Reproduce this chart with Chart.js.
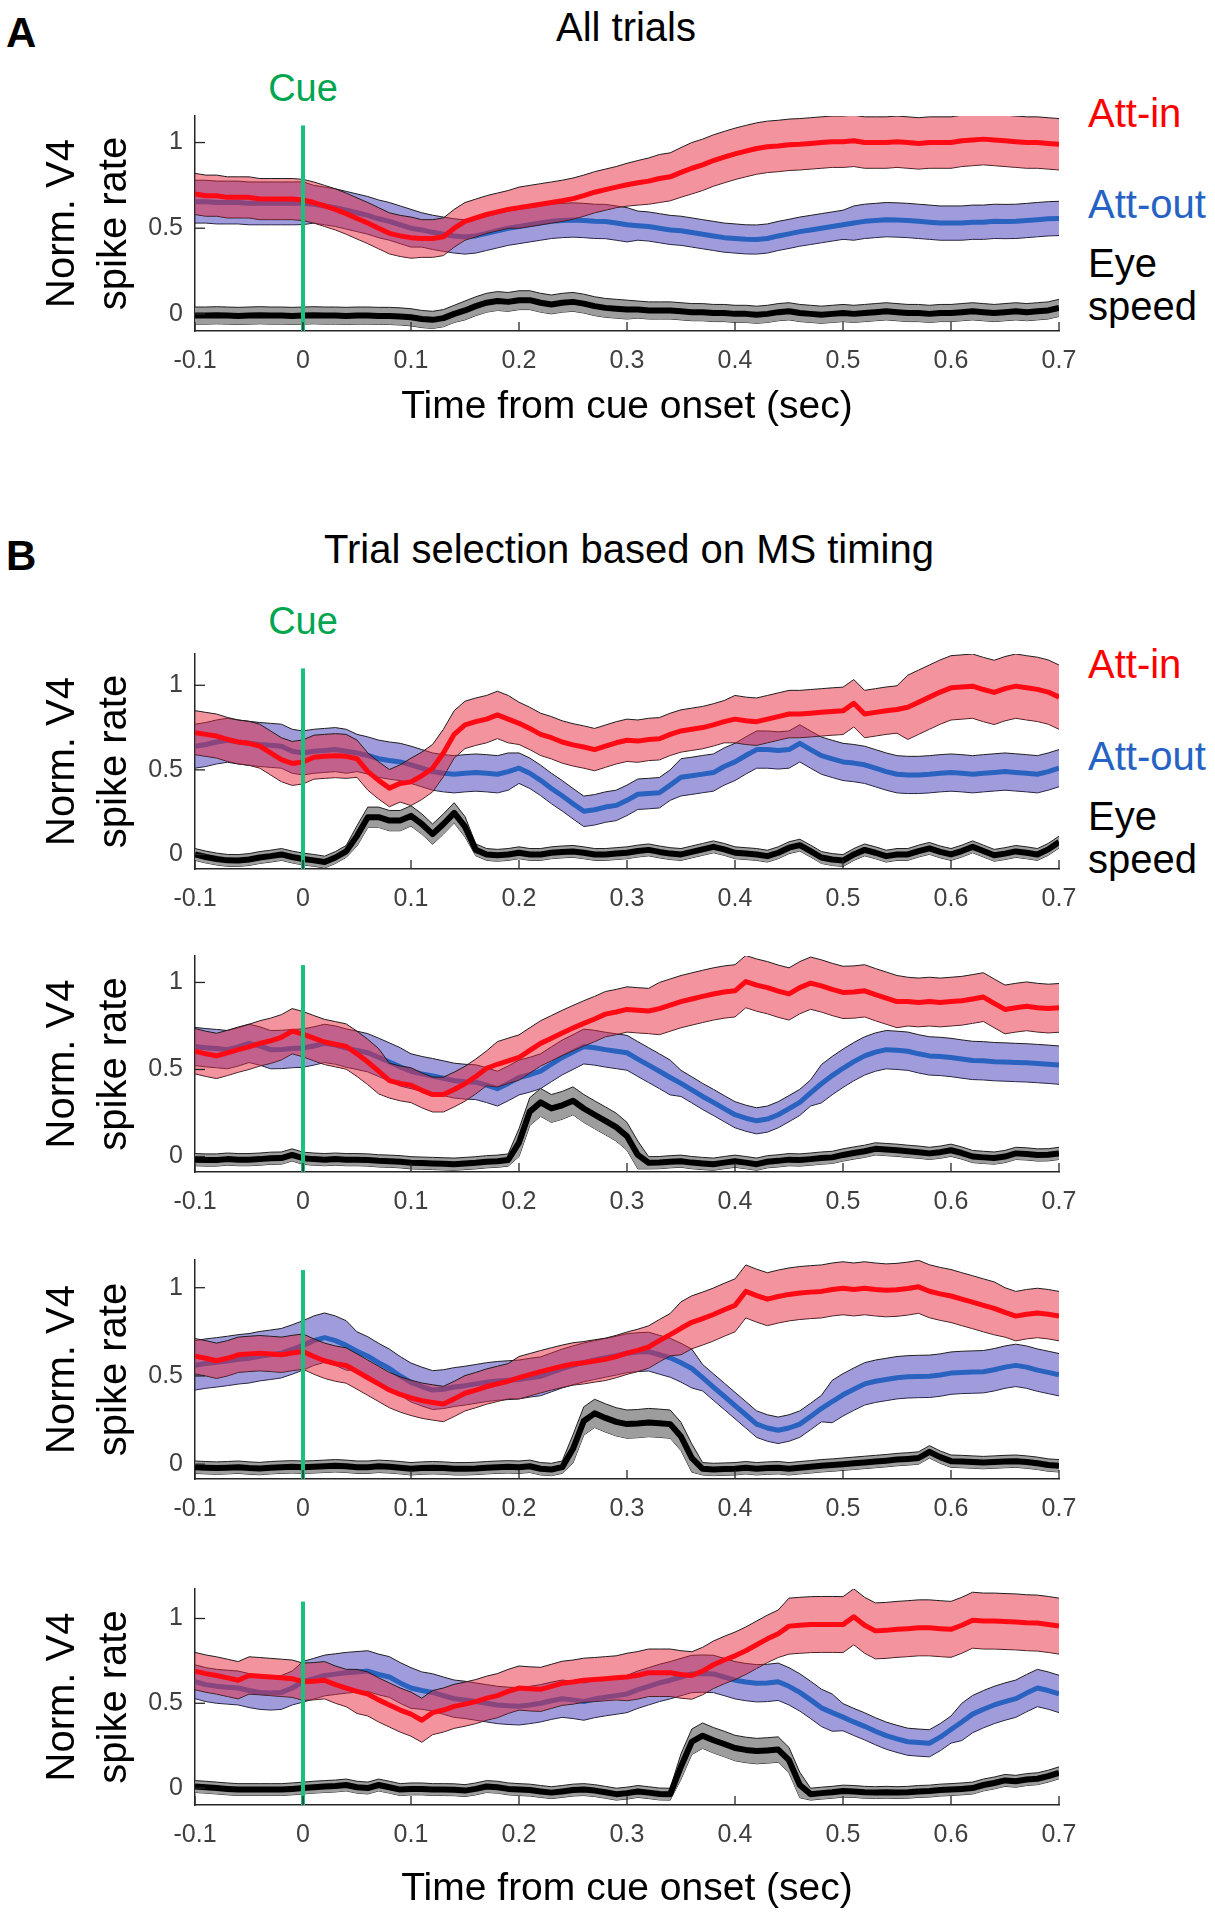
<!DOCTYPE html>
<html><head><meta charset="utf-8">
<script src="https://cdn.jsdelivr.net/npm/chart.js@4.4.1/dist/chart.umd.min.js"></script>
<style>
body{margin:0;background:#fff;}
#page{position:relative;width:1215px;height:1920px;overflow:hidden;font-family:'Liberation Sans',Arial,sans-serif;background:#fff;}
.t{position:absolute;white-space:nowrap;line-height:40px;font-size:40px;color:#000;}
.c{transform:translateX(-50%);}
canvas{position:absolute;left:0;}
</style></head><body><div id="page">
<div class="t" style="left:6px;top:12px;font-size:42px;line-height:42px;font-weight:bold;">A</div>
<div class="t c" style="left:626px;top:7px;">All trials</div>
<div class="t c" style="left:303px;top:68px;font-size:38px;color:#00a550;">Cue</div>
<div class="t" style="left:1088px;top:93px;color:#ff0000;">Att-in</div>
<div class="t" style="left:1088px;top:184px;color:#2462c4;">Att-out</div>
<div class="t" style="left:1088px;top:242px;line-height:43px;">Eye<br>speed</div>

<div class="t" style="left:6px;top:535px;font-size:42px;line-height:42px;font-weight:bold;">B</div>
<div class="t c" style="left:629px;top:529px;">Trial selection based on MS timing</div>
<div class="t c" style="left:303px;top:601px;font-size:38px;color:#00a550;">Cue</div>
<div class="t" style="left:1088px;top:644px;color:#ff0000;">Att-in</div>
<div class="t" style="left:1088px;top:736px;color:#2462c4;">Att-out</div>
<div class="t" style="left:1088px;top:795px;line-height:43px;">Eye<br>speed</div>
</div>
<script>
// ---------- time grid (sec) ----------
const T = [-0.1,-0.09,-0.08,-0.07,-0.06,-0.05,-0.04,-0.03,-0.02,-0.01,
0,0.01,0.02,0.03,0.04,0.05,0.06,0.07,0.08,0.09,
0.1,0.11,0.12,0.13,0.14,0.15,0.16,0.17,0.18,0.19,
0.2,0.21,0.22,0.23,0.24,0.25,0.26,0.27,0.28,0.29,
0.3,0.31,0.32,0.33,0.34,0.35,0.36,0.37,0.38,0.39,
0.4,0.41,0.42,0.43,0.44,0.45,0.46,0.47,0.48,0.49,
0.5,0.51,0.52,0.53,0.54,0.55,0.56,0.57,0.58,0.59,
0.6,0.61,0.62,0.63,0.64,0.65,0.66,0.67,0.68,0.69,
0.7];

const X_TICKS = [-0.1,0,0.1,0.2,0.3,0.4,0.5,0.6,0.7];
const X_TICK_LABELS = ['-0.1','0','0.1','0.2','0.3','0.4','0.5','0.6','0.7'];
const Y_TICKS = [0,0.5,1];
const Y_TICK_LABELS = ['0','0.5','1'];
const CUE_TIME = 0;
const CUE_TOP = 1.1;

// ---------- Panel A: All trials ----------
const A_IN = [0.70,0.69,0.69,0.68,0.68,0.68,0.67,0.67,0.67,0.67,
0.665,0.65,0.63,0.61,0.585,0.557,0.53,0.50,0.47,0.455,
0.445,0.44,0.44,0.45,0.50,0.54,0.56,0.58,0.595,0.61,
0.62,0.63,0.64,0.65,0.66,0.673,0.69,0.71,0.725,0.74,
0.754,0.765,0.775,0.79,0.80,0.826,0.85,0.87,0.895,0.915,
0.934,0.95,0.965,0.975,0.98,0.987,0.99,0.995,1.0,1.005,
1.005,1.01,1.0,1.0,1.0,1.005,1.0,0.995,1.0,1.0,
1.0,1.01,1.015,1.02,1.015,1.01,1.005,1.0,1.0,0.995,
0.99];
const A_IN_SEM = [0.12,0.12,0.12,0.12,0.12,0.12,0.12,0.12,0.12,0.12,
0.12,0.12,0.12,0.12,0.12,0.12,0.12,0.12,0.12,0.12,
0.12,0.11,0.11,0.11,0.11,0.11,0.11,0.11,0.11,0.11,
0.12,0.12,0.12,0.12,0.12,0.12,0.12,0.12,0.12,0.12,
0.125,0.13,0.135,0.14,0.14,0.145,0.15,0.15,0.15,0.15,
0.15,0.15,0.15,0.15,0.15,0.15,0.15,0.15,0.15,0.15,
0.15,0.15,0.15,0.15,0.15,0.15,0.15,0.15,0.15,0.15,
0.15,0.15,0.15,0.15,0.15,0.15,0.15,0.15,0.15,0.15,
0.15];
const A_OUT = [0.655,0.655,0.65,0.65,0.65,0.645,0.645,0.645,0.645,0.645,
0.646,0.64,0.63,0.62,0.605,0.59,0.575,0.555,0.54,0.52,
0.50,0.49,0.476,0.465,0.455,0.449,0.455,0.47,0.485,0.50,
0.51,0.52,0.53,0.54,0.545,0.548,0.545,0.54,0.539,0.53,
0.52,0.515,0.51,0.50,0.49,0.485,0.475,0.465,0.455,0.445,
0.44,0.435,0.434,0.44,0.455,0.467,0.48,0.49,0.50,0.51,
0.52,0.53,0.54,0.545,0.55,0.548,0.545,0.54,0.535,0.53,
0.53,0.53,0.535,0.535,0.54,0.539,0.54,0.545,0.55,0.555,
0.557];
const A_OUT_SEM = [0.125,0.125,0.125,0.125,0.125,0.125,0.125,0.125,0.125,0.125,
0.125,0.11,0.11,0.11,0.11,0.11,0.11,0.11,0.11,0.11,
0.11,0.1,0.1,0.1,0.1,0.1,0.1,0.1,0.1,0.1,
0.1,0.1,0.1,0.1,0.1,0.1,0.1,0.1,0.1,0.1,
0.1,0.085,0.085,0.085,0.085,0.085,0.085,0.085,0.085,0.085,
0.085,0.085,0.085,0.085,0.085,0.085,0.085,0.085,0.085,0.085,
0.085,0.1,0.1,0.1,0.1,0.1,0.1,0.1,0.1,0.1,
0.1,0.1,0.1,0.1,0.1,0.1,0.1,0.1,0.1,0.1,
0.1];
const A_EYE = [-0.01,-0.01,-0.008,-0.01,-0.012,-0.01,-0.008,-0.01,-0.01,-0.012,
-0.01,-0.008,-0.01,-0.01,-0.012,-0.01,-0.01,-0.012,-0.012,-0.015,
-0.02,-0.03,-0.035,-0.025,0.0,0.02,0.045,0.065,0.075,0.07,
0.08,0.08,0.065,0.055,0.065,0.07,0.06,0.045,0.035,0.03,
0.025,0.025,0.02,0.02,0.02,0.015,0.01,0.01,0.005,0.005,
0.0,0.0,-0.005,0.0,0.01,0.015,0.005,0.0,-0.005,0.0,
0.005,0.0,0.005,0.01,0.015,0.01,0.005,0.005,0.0,0.005,
0.005,0.01,0.015,0.01,0.005,0.01,0.015,0.01,0.015,0.02,
0.035];
const A_EYE_SEM = [0.05,0.05,0.05,0.05,0.05,0.05,0.05,0.05,0.05,0.05,
0.05,0.05,0.05,0.05,0.05,0.05,0.05,0.05,0.05,0.05,
0.05,0.05,0.05,0.05,0.05,0.055,0.055,0.055,0.055,0.055,
0.055,0.055,0.055,0.055,0.055,0.055,0.055,0.055,0.055,0.055,
0.055,0.05,0.05,0.05,0.05,0.05,0.05,0.05,0.05,0.05,
0.05,0.05,0.05,0.05,0.05,0.05,0.05,0.05,0.05,0.05,
0.05,0.05,0.05,0.05,0.05,0.05,0.05,0.05,0.05,0.05,
0.05,0.05,0.05,0.05,0.05,0.05,0.05,0.05,0.05,0.05,
0.05];

// ---------- Panel B1 ----------
const B1_IN = [0.72,0.71,0.70,0.68,0.665,0.657,0.64,0.60,0.56,0.538,
0.547,0.575,0.58,0.584,0.58,0.566,0.49,0.438,0.392,0.42,
0.429,0.465,0.51,0.60,0.71,0.766,0.785,0.80,0.825,0.80,
0.775,0.745,0.71,0.69,0.665,0.648,0.635,0.62,0.64,0.66,
0.675,0.67,0.68,0.684,0.71,0.73,0.74,0.75,0.766,0.785,
0.80,0.79,0.785,0.80,0.815,0.83,0.83,0.835,0.84,0.845,
0.849,0.894,0.83,0.84,0.85,0.857,0.87,0.90,0.93,0.96,
0.985,0.99,0.995,0.975,0.958,0.98,0.995,0.985,0.976,0.96,
0.93];
const B1_IN_SEM = [0.13,0.13,0.13,0.13,0.13,0.13,0.13,0.13,0.13,0.13,
0.13,0.13,0.13,0.13,0.13,0.11,0.11,0.11,0.11,0.11,
0.14,0.14,0.14,0.14,0.14,0.14,0.14,0.14,0.14,0.14,
0.125,0.125,0.125,0.125,0.125,0.125,0.125,0.125,0.125,0.125,
0.125,0.125,0.125,0.125,0.125,0.125,0.125,0.125,0.125,0.125,
0.14,0.14,0.14,0.14,0.14,0.14,0.14,0.14,0.14,0.14,
0.14,0.14,0.14,0.14,0.14,0.14,0.19,0.19,0.19,0.19,
0.19,0.19,0.19,0.19,0.19,0.19,0.19,0.19,0.19,0.19,
0.19];
const B1_OUT = [0.64,0.65,0.665,0.675,0.665,0.657,0.65,0.645,0.64,0.61,
0.60,0.61,0.615,0.62,0.61,0.60,0.585,0.566,0.555,0.547,
0.53,0.51,0.49,0.48,0.474,0.48,0.484,0.48,0.474,0.49,
0.51,0.48,0.438,0.39,0.347,0.30,0.255,0.264,0.28,0.29,
0.32,0.356,0.36,0.365,0.41,0.456,0.465,0.475,0.484,0.52,
0.547,0.585,0.62,0.62,0.615,0.62,0.657,0.62,0.584,0.565,
0.547,0.54,0.53,0.51,0.49,0.474,0.47,0.47,0.474,0.48,
0.484,0.48,0.474,0.48,0.485,0.49,0.485,0.48,0.474,0.49,
0.51];
const B1_OUT_SEM = [0.13,0.13,0.13,0.13,0.13,0.13,0.13,0.13,0.13,0.13,
0.13,0.13,0.13,0.13,0.13,0.11,0.11,0.11,0.11,0.11,
0.11,0.11,0.11,0.11,0.11,0.11,0.11,0.11,0.11,0.11,
0.09,0.09,0.09,0.09,0.09,0.09,0.09,0.09,0.09,0.09,
0.09,0.09,0.09,0.09,0.09,0.11,0.11,0.11,0.11,0.11,
0.11,0.11,0.11,0.11,0.11,0.11,0.11,0.11,0.11,0.11,
0.11,0.11,0.11,0.11,0.11,0.11,0.11,0.11,0.11,0.11,
0.11,0.11,0.11,0.11,0.11,0.11,0.11,0.11,0.11,0.11,
0.11];
const B1_EYE = [0.0,-0.015,-0.027,-0.035,-0.036,-0.03,-0.018,-0.01,0.0,-0.015,
-0.027,-0.035,-0.045,-0.018,0.018,0.11,0.22,0.22,0.2,0.2,
0.228,0.18,0.12,0.18,0.246,0.164,0.027,0.0,-0.005,0.0,
0.01,0.0,0.0,0.01,0.015,0.018,0.01,0.0,0.0,0.005,
0.01,0.02,0.027,0.015,0.005,0.0,0.015,0.03,0.045,0.03,
0.01,0.005,0.0,-0.01,0.01,0.04,0.055,0.02,-0.018,-0.03,
-0.036,0.0,0.027,0.01,-0.01,0.0,0.0,0.02,0.036,0.015,
0.0,0.02,0.045,0.02,-0.005,0.005,0.018,0.01,0.0,0.03,
0.073];
const B1_EYE_SEM = [0.035,0.035,0.035,0.035,0.035,0.035,0.035,0.035,0.035,0.035,
0.035,0.035,0.035,0.035,0.035,0.06,0.06,0.06,0.06,0.06,
0.06,0.06,0.06,0.06,0.06,0.06,0.035,0.035,0.035,0.035,
0.035,0.035,0.035,0.035,0.035,0.035,0.035,0.035,0.035,0.035,
0.035,0.035,0.035,0.035,0.035,0.035,0.035,0.035,0.035,0.035,
0.035,0.035,0.035,0.035,0.035,0.035,0.035,0.035,0.035,0.035,
0.035,0.035,0.035,0.035,0.035,0.035,0.035,0.035,0.035,0.035,
0.035,0.035,0.035,0.035,0.035,0.035,0.035,0.035,0.035,0.035,
0.035];

// ---------- Panel B2 ----------
const B2_IN = [0.605,0.59,0.578,0.595,0.614,0.63,0.65,0.665,0.685,0.72,
0.703,0.68,0.658,0.645,0.632,0.59,0.543,0.49,0.436,0.42,
0.41,0.38,0.356,0.356,0.385,0.418,0.46,0.507,0.53,0.55,
0.569,0.61,0.65,0.68,0.71,0.738,0.765,0.79,0.818,0.83,
0.845,0.84,0.836,0.85,0.87,0.89,0.905,0.92,0.934,0.945,
0.952,1.005,0.985,0.97,0.95,0.934,0.97,0.996,0.98,0.96,
0.943,0.945,0.952,0.93,0.91,0.89,0.89,0.885,0.89,0.885,
0.89,0.895,0.905,0.916,0.88,0.845,0.855,0.863,0.855,0.85,
0.854];
const B2_IN_SEM = [0.13,0.13,0.13,0.13,0.13,0.13,0.13,0.13,0.13,0.13,
0.13,0.13,0.13,0.13,0.13,0.13,0.13,0.13,0.1,0.1,
0.1,0.1,0.1,0.1,0.1,0.1,0.1,0.1,0.13,0.13,
0.13,0.13,0.13,0.13,0.13,0.13,0.13,0.13,0.13,0.13,
0.13,0.13,0.13,0.15,0.15,0.15,0.15,0.15,0.15,0.15,
0.15,0.15,0.15,0.15,0.15,0.15,0.15,0.15,0.15,0.15,
0.15,0.15,0.15,0.15,0.15,0.15,0.14,0.14,0.14,0.14,
0.14,0.14,0.14,0.14,0.14,0.14,0.14,0.14,0.14,0.14,
0.14];
const B2_OUT = [0.632,0.625,0.62,0.614,0.63,0.65,0.635,0.614,0.615,0.62,
0.623,0.635,0.65,0.64,0.623,0.61,0.596,0.57,0.543,0.515,
0.49,0.475,0.463,0.45,0.436,0.43,0.427,0.41,0.39,0.42,
0.454,0.47,0.49,0.53,0.569,0.60,0.632,0.625,0.614,0.605,
0.596,0.56,0.525,0.49,0.454,0.42,0.383,0.345,0.311,0.275,
0.24,0.22,0.205,0.215,0.24,0.275,0.311,0.365,0.418,0.465,
0.507,0.545,0.578,0.60,0.614,0.61,0.605,0.59,0.578,0.575,
0.569,0.56,0.552,0.55,0.545,0.543,0.54,0.538,0.534,0.53,
0.525];
const B2_OUT_SEM = [0.11,0.11,0.11,0.11,0.11,0.11,0.11,0.11,0.11,0.11,
0.11,0.11,0.11,0.11,0.11,0.11,0.11,0.11,0.11,0.11,
0.1,0.1,0.1,0.1,0.1,0.1,0.1,0.1,0.1,0.1,
0.1,0.1,0.1,0.1,0.1,0.1,0.1,0.1,0.1,0.1,
0.1,0.1,0.1,0.1,0.1,0.075,0.075,0.075,0.075,0.075,
0.075,0.075,0.075,0.075,0.075,0.075,0.075,0.075,0.11,0.11,
0.11,0.11,0.11,0.11,0.11,0.11,0.11,0.11,0.11,0.11,
0.11,0.11,0.11,0.11,0.11,0.11,0.11,0.11,0.11,0.11,
0.11];
const B2_EYE = [-0.018,-0.02,-0.02,-0.015,-0.018,-0.018,-0.015,-0.01,-0.009,0.009,
-0.01,-0.015,-0.018,-0.015,-0.018,-0.018,-0.02,-0.025,-0.027,-0.03,
-0.036,-0.038,-0.04,-0.042,-0.044,-0.04,-0.036,-0.03,-0.027,-0.02,
0.08,0.258,0.311,0.276,0.294,0.32,0.276,0.24,0.205,0.169,
0.116,0.009,-0.036,-0.035,-0.03,-0.027,-0.035,-0.04,-0.044,-0.035,
-0.027,-0.035,-0.044,-0.03,-0.025,-0.018,-0.02,-0.015,-0.009,-0.005,
0.009,0.02,0.03,0.044,0.04,0.036,0.03,0.025,0.018,0.025,
0.036,0.02,0.0,-0.005,-0.009,0.0,0.018,0.015,0.009,0.01,
0.018];
const B2_EYE_SEM = [0.035,0.035,0.035,0.035,0.035,0.035,0.035,0.035,0.035,0.035,
0.035,0.035,0.035,0.035,0.035,0.035,0.035,0.035,0.035,0.035,
0.035,0.035,0.035,0.035,0.035,0.035,0.035,0.035,0.035,0.035,
0.08,0.08,0.08,0.08,0.08,0.08,0.08,0.08,0.08,0.08,
0.08,0.08,0.035,0.035,0.035,0.035,0.035,0.035,0.035,0.035,
0.035,0.035,0.035,0.035,0.035,0.035,0.035,0.035,0.035,0.035,
0.035,0.035,0.035,0.035,0.035,0.035,0.035,0.035,0.035,0.035,
0.035,0.035,0.035,0.035,0.035,0.035,0.035,0.035,0.035,0.035,
0.035];

// ---------- Panel B3 ----------
const B3_IN = [0.612,0.60,0.586,0.60,0.62,0.625,0.629,0.625,0.62,0.63,
0.638,0.61,0.586,0.57,0.559,0.525,0.49,0.455,0.42,0.395,
0.376,0.36,0.35,0.341,0.37,0.402,0.42,0.44,0.455,0.47,
0.49,0.507,0.524,0.54,0.555,0.568,0.575,0.585,0.594,0.61,
0.629,0.645,0.664,0.70,0.734,0.77,0.804,0.825,0.848,0.875,
0.90,0.979,0.955,0.935,0.95,0.962,0.97,0.975,0.979,0.99,
0.997,0.99,0.997,0.99,0.985,0.988,0.995,1.005,0.98,0.965,
0.953,0.935,0.918,0.90,0.883,0.86,0.839,0.85,0.857,0.85,
0.839];
const B3_IN_SEM = [0.1,0.1,0.1,0.1,0.1,0.1,0.1,0.1,0.1,0.1,
0.1,0.1,0.1,0.1,0.1,0.1,0.1,0.1,0.1,0.1,
0.1,0.1,0.1,0.1,0.1,0.1,0.1,0.1,0.1,0.1,
0.12,0.12,0.12,0.12,0.12,0.12,0.12,0.12,0.12,0.12,
0.12,0.12,0.12,0.12,0.12,0.15,0.15,0.15,0.15,0.15,
0.15,0.15,0.15,0.15,0.15,0.15,0.15,0.15,0.15,0.15,
0.15,0.15,0.15,0.15,0.15,0.15,0.15,0.15,0.15,0.15,
0.15,0.15,0.15,0.15,0.15,0.14,0.14,0.14,0.14,0.14,
0.14];
const B3_OUT = [0.56,0.57,0.577,0.585,0.594,0.60,0.612,0.62,0.629,0.65,
0.673,0.70,0.717,0.70,0.673,0.64,0.612,0.575,0.542,0.50,
0.463,0.44,0.42,0.425,0.437,0.445,0.455,0.465,0.472,0.476,
0.48,0.49,0.498,0.52,0.542,0.56,0.577,0.59,0.603,0.615,
0.629,0.635,0.638,0.62,0.603,0.575,0.542,0.49,0.437,0.385,
0.332,0.28,0.227,0.205,0.192,0.205,0.227,0.27,0.315,0.355,
0.393,0.425,0.455,0.47,0.48,0.49,0.495,0.497,0.498,0.505,
0.516,0.52,0.522,0.524,0.535,0.55,0.56,0.55,0.533,0.52,
0.507];
const B3_OUT_SEM = [0.14,0.14,0.14,0.14,0.14,0.14,0.14,0.14,0.14,0.14,
0.14,0.14,0.14,0.14,0.14,0.11,0.11,0.11,0.11,0.11,
0.11,0.11,0.11,0.11,0.11,0.11,0.11,0.11,0.11,0.11,
0.11,0.11,0.11,0.11,0.11,0.11,0.11,0.11,0.11,0.11,
0.11,0.11,0.11,0.11,0.11,0.11,0.11,0.075,0.075,0.075,
0.075,0.075,0.075,0.075,0.075,0.075,0.075,0.075,0.075,0.12,
0.12,0.12,0.12,0.12,0.12,0.12,0.12,0.12,0.12,0.12,
0.12,0.12,0.12,0.12,0.12,0.12,0.12,0.12,0.12,0.12,
0.12];
const B3_EYE = [-0.017,-0.02,-0.022,-0.02,-0.017,-0.022,-0.025,-0.02,-0.017,-0.015,
-0.017,-0.015,-0.012,-0.009,-0.012,-0.017,-0.017,-0.012,-0.015,-0.02,
-0.026,-0.022,-0.02,-0.022,-0.026,-0.026,-0.024,-0.02,-0.017,-0.015,
-0.017,-0.012,-0.026,-0.03,-0.017,0.087,0.245,0.288,0.262,0.24,
0.227,0.23,0.236,0.232,0.227,0.157,0.035,-0.026,-0.03,-0.028,
-0.026,-0.02,-0.026,-0.022,-0.02,-0.026,-0.02,-0.015,-0.009,-0.005,
0.0,0.005,0.01,0.015,0.02,0.026,0.03,0.035,0.07,0.04,
0.017,0.015,0.012,0.009,0.012,0.015,0.017,0.012,0.005,-0.005,
-0.009];
const B3_EYE_SEM = [0.035,0.035,0.035,0.035,0.035,0.035,0.035,0.035,0.035,0.035,
0.035,0.035,0.035,0.035,0.035,0.035,0.035,0.035,0.035,0.035,
0.035,0.035,0.035,0.035,0.035,0.035,0.035,0.035,0.035,0.035,
0.035,0.035,0.035,0.035,0.035,0.08,0.08,0.08,0.08,0.08,
0.08,0.08,0.08,0.08,0.08,0.08,0.08,0.035,0.035,0.035,
0.035,0.035,0.035,0.035,0.035,0.035,0.035,0.035,0.035,0.035,
0.035,0.035,0.035,0.035,0.035,0.035,0.035,0.035,0.035,0.035,
0.035,0.035,0.035,0.035,0.035,0.035,0.035,0.035,0.035,0.035,
0.035];

// ---------- Panel B4 ----------
const B4_IN = [0.69,0.675,0.664,0.65,0.636,0.664,0.66,0.655,0.65,0.645,
0.627,0.63,0.636,0.61,0.59,0.57,0.555,0.52,0.49,0.46,
0.436,0.40,0.445,0.46,0.482,0.495,0.51,0.53,0.545,0.57,
0.59,0.585,0.582,0.60,0.618,0.625,0.636,0.64,0.645,0.65,
0.655,0.665,0.68,0.68,0.68,0.67,0.664,0.69,0.727,0.755,
0.78,0.81,0.845,0.88,0.91,0.955,0.96,0.964,0.965,0.965,
0.964,1.01,0.96,0.927,0.93,0.936,0.94,0.945,0.945,0.94,
0.936,0.96,0.99,0.985,0.985,0.982,0.98,0.975,0.973,0.965,
0.955];
const B4_IN_SEM = [0.11,0.11,0.11,0.11,0.11,0.11,0.11,0.11,0.11,0.11,
0.11,0.11,0.11,0.11,0.11,0.13,0.13,0.13,0.13,0.13,
0.13,0.13,0.13,0.13,0.13,0.13,0.13,0.13,0.13,0.13,
0.13,0.13,0.13,0.13,0.13,0.13,0.13,0.13,0.13,0.13,
0.14,0.14,0.14,0.14,0.14,0.14,0.14,0.14,0.14,0.14,
0.14,0.14,0.14,0.14,0.14,0.165,0.165,0.165,0.165,0.165,
0.165,0.165,0.165,0.165,0.165,0.165,0.165,0.165,0.165,0.165,
0.165,0.165,0.165,0.165,0.165,0.165,0.165,0.165,0.165,0.165,
0.165];
const B4_OUT = [0.627,0.61,0.60,0.595,0.59,0.575,0.564,0.56,0.564,0.59,
0.627,0.645,0.664,0.672,0.68,0.685,0.69,0.67,0.655,0.62,
0.59,0.575,0.564,0.545,0.527,0.52,0.51,0.50,0.49,0.485,
0.482,0.49,0.50,0.515,0.527,0.52,0.51,0.525,0.536,0.545,
0.555,0.58,0.60,0.62,0.636,0.655,0.673,0.675,0.673,0.655,
0.636,0.625,0.618,0.62,0.627,0.60,0.564,0.52,0.473,0.445,
0.418,0.39,0.364,0.335,0.309,0.29,0.273,0.268,0.264,0.30,
0.345,0.39,0.436,0.465,0.49,0.51,0.527,0.56,0.59,0.575,
0.555];
const B4_OUT_SEM = [0.1,0.1,0.1,0.1,0.1,0.1,0.1,0.1,0.1,0.1,
0.12,0.12,0.12,0.12,0.12,0.12,0.12,0.12,0.12,0.12,
0.12,0.11,0.11,0.11,0.11,0.11,0.11,0.11,0.11,0.11,
0.11,0.11,0.11,0.11,0.11,0.11,0.11,0.11,0.11,0.11,
0.11,0.11,0.11,0.11,0.11,0.11,0.11,0.11,0.11,0.11,
0.11,0.11,0.11,0.11,0.11,0.11,0.11,0.11,0.11,0.11,
0.08,0.08,0.08,0.08,0.08,0.08,0.08,0.08,0.08,0.08,
0.08,0.11,0.11,0.11,0.11,0.11,0.11,0.11,0.11,0.11,
0.11];
const B4_EYE = [0.009,0.005,0.0,-0.005,-0.009,-0.009,-0.009,-0.009,-0.009,-0.005,
0.0,0.005,0.009,0.012,0.018,0.005,0.0,0.018,0.005,-0.009,
-0.005,-0.005,-0.009,-0.009,-0.01,-0.015,-0.005,0.009,0.005,-0.005,
-0.009,-0.012,-0.02,-0.027,-0.02,-0.012,-0.009,-0.015,-0.025,-0.036,
-0.03,-0.02,-0.027,-0.035,-0.036,0.127,0.273,0.309,0.282,0.26,
0.236,0.225,0.218,0.222,0.227,0.164,0.018,-0.036,-0.03,-0.025,
-0.018,-0.02,-0.025,-0.027,-0.025,-0.027,-0.025,-0.02,-0.018,-0.012,
-0.009,-0.005,0.0,0.018,0.03,0.045,0.04,0.05,0.055,0.07,
0.09];
const B4_EYE_SEM = [0.035,0.035,0.035,0.035,0.035,0.035,0.035,0.035,0.035,0.035,
0.035,0.035,0.035,0.035,0.035,0.035,0.035,0.035,0.035,0.035,
0.035,0.035,0.035,0.035,0.035,0.035,0.035,0.035,0.035,0.035,
0.035,0.035,0.035,0.035,0.035,0.035,0.035,0.035,0.035,0.035,
0.035,0.035,0.035,0.035,0.035,0.075,0.075,0.075,0.075,0.075,
0.075,0.075,0.075,0.075,0.075,0.075,0.075,0.035,0.035,0.035,
0.035,0.035,0.035,0.035,0.035,0.035,0.035,0.035,0.035,0.035,
0.035,0.035,0.035,0.035,0.035,0.035,0.035,0.035,0.035,0.035,
0.035];

// ---------- layout / style (not data) ----------
const FONT = "'Liberation Sans', Arial, sans-serif";
const PLOT_LEFT = 195, PLOT_RIGHT = 1059, PAGE_W = 1215, TOP_PAD = 10;
const PANELS = [
  {top:99,  bottom:331,  xH:100, xTitle:true,  yMin:-0.1,  yMax:1.155, data:[A_IN,A_IN_SEM,A_OUT,A_OUT_SEM,A_EYE,A_EYE_SEM]},
  {top:637, bottom:869,  xH:50,  xTitle:false, yMin:-0.086,yMax:1.185, data:[B1_IN,B1_IN_SEM,B1_OUT,B1_OUT_SEM,B1_EYE,B1_EYE_SEM]},
  {top:939, bottom:1172, xH:50,  xTitle:false, yMin:-0.089,yMax:1.152, data:[B2_IN,B2_IN_SEM,B2_OUT,B2_OUT_SEM,B2_EYE,B2_EYE_SEM]},
  {top:1243,bottom:1479, xH:50,  xTitle:false, yMin:-0.084,yMax:1.157, data:[B3_IN,B3_IN_SEM,B3_OUT,B3_OUT_SEM,B3_EYE,B3_EYE_SEM]},
  {top:1572,bottom:1805, xH:108, xTitle:true,  yMin:-0.1,  yMax:1.174, data:[B4_IN,B4_IN_SEM,B4_OUT,B4_OUT_SEM,B4_EYE,B4_EYE_SEM]}
];
const IN_FILL='rgba(230,40,60,0.5)', OUT_FILL='rgba(65,57,185,0.5)', EYE_FILL='#9d9d9d';
const IN_LINE='#ff0a14', OUT_LINE='#2a62c0', EYE_LINE='#000000', EDGE='#1e1e1e', CUE_COLOR='#19c27c';

function pts(vals, sem, sign){ return T.map((t,i)=>({x:t, y: vals[i] + (sem ? sign*sem[i] : 0)})); }
function line(data, color, w, order, fill, bg){
  return {data, borderColor:color, borderWidth:w, pointRadius:0, tension:0, order,
          borderJoinStyle:'round', fill: fill || false, backgroundColor: bg || 'transparent'};
}

const inwardTicks = {
  id:'inwardTicks',
  afterDraw(chart){
    const {ctx, chartArea:a, scales:{x,y}} = chart;
    ctx.save(); ctx.strokeStyle='#262626'; ctx.lineWidth=1.3;
    X_TICKS.forEach(v=>{const px=x.getPixelForValue(v); ctx.beginPath(); ctx.moveTo(px,a.bottom); ctx.lineTo(px,a.bottom-9); ctx.stroke();});
    Y_TICKS.forEach(v=>{const py=y.getPixelForValue(v); ctx.beginPath(); ctx.moveTo(a.left,py); ctx.lineTo(a.left+10,py); ctx.stroke();});
    ctx.restore();
  }
};

const page = document.getElementById('page');
PANELS.forEach(p=>{
  const [mIn,sIn,mOut,sOut,mEye,sEye] = p.data;
  const cv = document.createElement('canvas');
  const h = TOP_PAD + (p.bottom - p.top) + p.xH;
  cv.width = PAGE_W; cv.height = h;
  cv.style.top = (p.top - TOP_PAD) + 'px';
  cv.style.width = PAGE_W + 'px'; cv.style.height = h + 'px';
  page.appendChild(cv);
  new Chart(cv, {
    type:'line',
    data:{datasets:[
      line([{x:CUE_TIME,y:p.yMin},{x:CUE_TIME,y:CUE_TOP}], CUE_COLOR, 4, 0),
      line(pts(mEye), EYE_LINE, 6, 1),
      line(pts(mEye,sEye,1), EDGE, 1, 2, '+1', EYE_FILL),
      line(pts(mEye,sEye,-1), EDGE, 1, 3),
      line(pts(mIn), IN_LINE, 5, 4),
      line(pts(mIn,sIn,1), EDGE, 1, 5, '+1', IN_FILL),
      line(pts(mIn,sIn,-1), EDGE, 1, 6),
      line(pts(mOut), OUT_LINE, 5, 7),
      line(pts(mOut,sOut,1), EDGE, 1, 8, '+1', OUT_FILL),
      line(pts(mOut,sOut,-1), EDGE, 1, 9)
    ]},
    options:{
      responsive:false, animation:false, devicePixelRatio:1,
      layout:{padding:{top:TOP_PAD, right:PAGE_W-PLOT_RIGHT, left:0, bottom:0}},
      plugins:{legend:{display:false}, tooltip:{enabled:false}},
      scales:{
        x:{type:'linear', min:-0.1, max:0.7,
           afterBuildTicks(s){ s.ticks = X_TICKS.map(v=>({value:v})); },
           afterFit(s){ s.height = p.xH; },
           ticks:{autoSkip:false, maxRotation:0, padding:15, color:'#404040', font:{family:FONT,size:25},
                  callback:(v,i)=>X_TICK_LABELS[i]},
           grid:{display:false, drawTicks:false},
           border:{display:true, color:'#262626', width:1.5},
           title:{display:p.xTitle, text:'Time from cue onset (sec)', color:'#000', font:{family:FONT,size:39,lineHeight:1.2}, padding:{top:0,bottom:0}}
        },
        y:{type:'linear', min:p.yMin, max:p.yMax,
           afterBuildTicks(s){ s.ticks = Y_TICKS.map(v=>({value:v})); },
           afterFit(s){ s.width = PLOT_LEFT; },
           ticks:{autoSkip:false, padding:12, color:'#404040', font:{family:FONT,size:25},
                  callback:(v,i)=>Y_TICK_LABELS[i]},
           grid:{display:false, drawTicks:false},
           border:{display:true, color:'#262626', width:1.5},
           title:{display:true, text:['Norm. V4','spike rate'], color:'#000', font:{family:FONT,size:40,lineHeight:1.3}, padding:{top:37,bottom:0}}
        }
      }
    },
    plugins:[inwardTicks]
  });
});
</script>
</body></html>
